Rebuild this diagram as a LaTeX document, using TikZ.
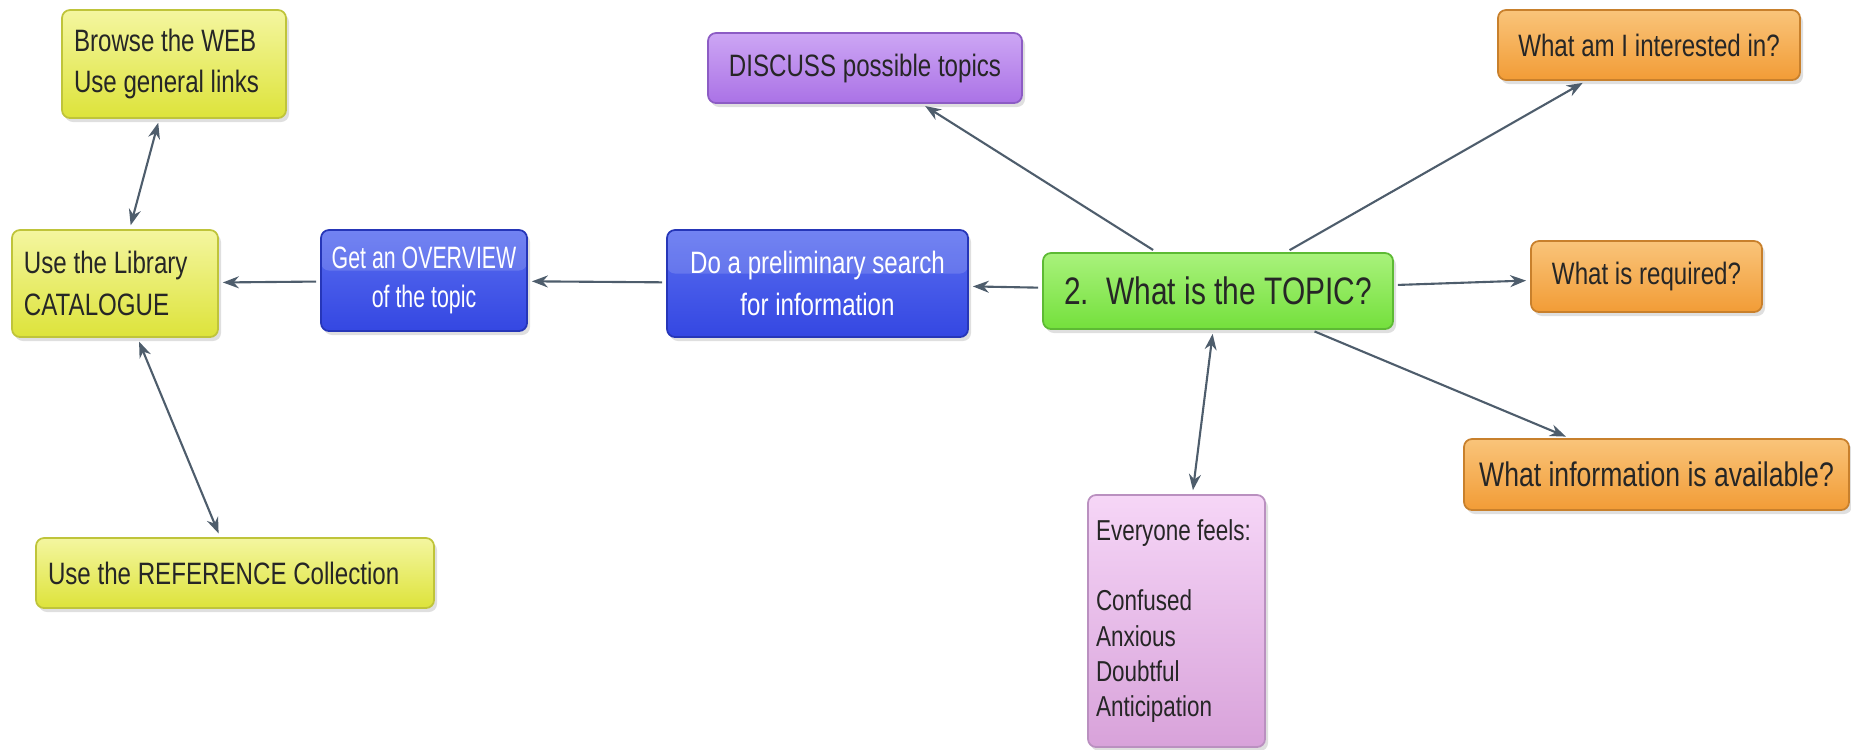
\documentclass[tikz,border=0pt]{standalone}
\usepackage{fontspec}
\setmainfont{Liberation Sans}[FakeStretch=0.78]
\usetikzlibrary{arrows.meta,shadows}
\definecolor{linkgray}{HTML}{4E5D6C}
\definecolor{yeltop}{HTML}{F4F6A0}
\definecolor{yelbot}{HTML}{DDE33A}
\definecolor{yeledge}{HTML}{BFC43A}
\definecolor{bluetop}{HTML}{5A6EF0}
\definecolor{bluebot}{HTML}{3447E2}
\definecolor{blueedge}{HTML}{2636B8}
\definecolor{purtop}{HTML}{CDA6F4}
\definecolor{purbot}{HTML}{AA72E6}
\definecolor{puredge}{HTML}{8C5CC4}
\definecolor{grntop}{HTML}{A9F27C}
\definecolor{grnbot}{HTML}{74E03C}
\definecolor{grnedge}{HTML}{5DBA34}
\definecolor{orgtop}{HTML}{F9C47A}
\definecolor{orgbot}{HTML}{F29C36}
\definecolor{orgedge}{HTML}{C8802C}
\definecolor{pnktop}{HTML}{F6D6F7}
\definecolor{pnkbot}{HTML}{D8A2DA}
\definecolor{pnkedge}{HTML}{BA90C0}

\begin{document}
\begin{tikzpicture}[
    box/.style={rounded corners=0.8mm, line width=0.5pt, inner xsep=1.2mm, inner ysep=0.8mm,
        text=black!85, font=\fontsize{8.8}{11.9}\selectfont,
        drop shadow={shadow xshift=0.3mm, shadow yshift=-0.4mm, opacity=0.25}},
    yelbox/.style={box, draw=yeledge, top color=yeltop, bottom color=yelbot, align=flush left},
    bluebox/.style={box, draw=blueedge, top color=bluetop, bottom color=bluebot, text=white, align=center,
        path picture={\fill[white, opacity=0.15] (path picture bounding box.north west)
            rectangle ([yshift=1mm]path picture bounding box.east);}},
    purbox/.style={box, draw=puredge, top color=purtop, bottom color=purbot, align=center},
    grnbox/.style={box, draw=grnedge, top color=grntop, bottom color=grnbot, align=center,
        font=\fontsize{10.9}{13}\selectfont},
    orgbox/.style={box, draw=orgedge, top color=orgtop, bottom color=orgbot, align=center},
    pnkbox/.style={box, draw=pnkedge, top color=pnktop, bottom color=pnkbot, align=flush left,
        inner xsep=0.8mm, font=\fontsize{8.2}{10}\selectfont},
    link/.style={draw=linkgray, line width=0.6pt, shorten >=0.4mm, shorten <=0.4mm,
        -{Stealth[length=1.6mm, width=1.2mm]}},
    both/.style={link, {Stealth[length=1.6mm, width=1.2mm]}-{Stealth[length=1.6mm, width=1.2mm]}}
]
    \useasboundingbox (0, 0) rectangle (18.51, 7.49);

    \node[yelbox, text width=2.0cm, minimum height=1.08cm] (web) at (1.74, 6.85) {Browse the WEB\\Use general links};
    \node[yelbox, text width=1.82cm, minimum height=1.07cm] (catalogue) at (1.15, 4.655) {Use the Library\\CATALOGUE};
    \node[yelbox, text width=3.74cm, minimum height=0.70cm] (reference) at (2.35, 1.76) {Use the REFERENCE Collection};
    \node[bluebox, minimum width=2.06cm, minimum height=1.01cm, inner xsep=0.6mm,
        font=\fontsize{8.8}{11.2}\selectfont\addfontfeature{FakeStretch=0.69}] (overview) at (4.24, 4.685) {Get an OVERVIEW\\of the topic};
    \node[bluebox, minimum width=3.01cm, minimum height=1.07cm] (search) at (8.175, 4.655) {Do a preliminary search\\for information};
    \node[purbox, minimum width=3.14cm, minimum height=0.70cm] (discuss) at (8.65, 6.81) {DISCUSS possible topics};
    \node[grnbox, minimum width=3.50cm, minimum height=0.76cm] (topic) at (12.18, 4.58) {2.\hspace{0.45em}What is the TOPIC?};
    \node[orgbox, minimum width=3.02cm, minimum height=0.70cm] (interest) at (16.49, 7.04) {What am I interested in?};
    \node[orgbox, minimum width=2.31cm, minimum height=0.71cm] (required) at (16.465, 4.725) {What is required?};
    \node[orgbox, minimum width=3.85cm, minimum height=0.71cm, font=\fontsize{9.7}{11.9}\selectfont]
        (available) at (16.565, 2.745) {What information is available?};
    \node[pnkbox, text width=1.61cm, minimum height=2.52cm] (feels) at (11.765, 1.28)
        {Everyone feels:\\[10pt]Confused\\Anxious\\Doubtful\\Anticipation};

    \draw[both] (catalogue) -- (web);
    \draw[both] (catalogue) -- (reference);
    \draw[link] (overview) -- (catalogue);
    \draw[link] (search) -- (overview);
    \draw[link] (topic) -- (search);
    \draw[link] (topic) -- (discuss);
    \draw[link] (topic) -- (interest);
    \draw[link] (topic) -- (required);
    \draw[link] (topic) -- (available);
    \draw[both] (topic) -- (feels);
\end{tikzpicture}
\end{document}
